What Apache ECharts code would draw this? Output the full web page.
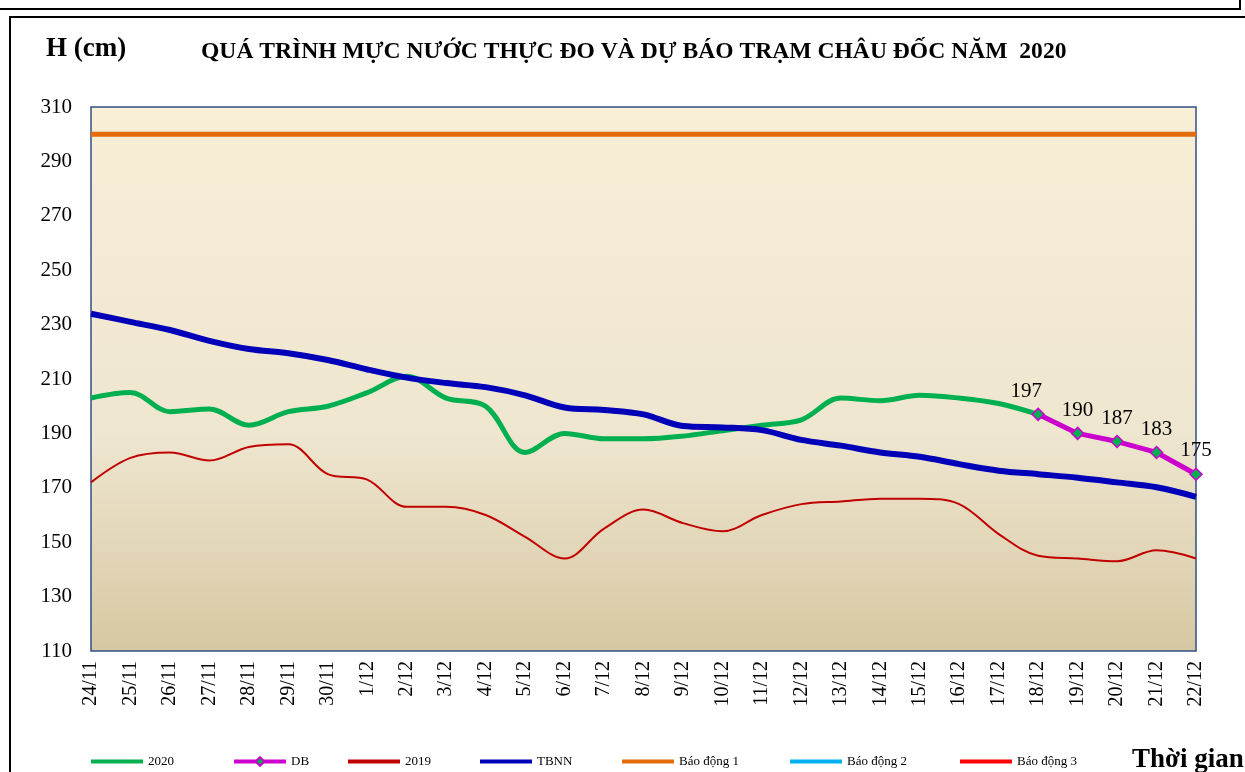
<!DOCTYPE html>
<html>
<head>
<meta charset="utf-8">
<title>Châu Đốc 2020</title>
<script src="https://cdn.jsdelivr.net/npm/echarts@6/dist/echarts.min.js"></script>
<style>
  html, body { margin: 0; padding: 0; background: #fff; }
  #chart { width: 1245px; height: 772px; }
</style>
</head>
<body>
<div id="chart"></div>
<script>
// Chart data
const days = [
  "24/11", "25/11", "26/11", "27/11", "28/11", "29/11", "30/11",
  "1/12", "2/12", "3/12", "4/12", "5/12", "6/12", "7/12", "8/12", "9/12",
  "10/12", "11/12", "12/12", "13/12", "14/12", "15/12", "16/12", "17/12",
  "18/12", "19/12", "20/12", "21/12", "22/12"
]
const level2020 = [203, 205, 198, 199, 193, 198, 200, 205, 211, 203, 200, 183, 190, 188, 188, 189,
  191, 193, 195, 203, 202, 204, 203, 201, 197, null, null, null, null]
const forecast = [null, null, null, null, null, null, null, null, null, null, null, null, null, null,
  null, null, null, null, null, null, null, null, null, null, 197, 190, 187, 183, 175]
const level2019 = [172, 181, 183, 180, 185, 186, 175, 173, 163, 163, 160, 152, 144, 155, 162, 157,
  154, 160, 164, 165, 166, 166, 164, 153, 145, 144, 143, 147, 144]
const average = [234, 231, 228, 224, 221, 219.5, 217, 213.5, 210.5, 208.5, 207, 204, 199.5, 198.6, 197,
  192.7, 192.2, 191.2, 187.6, 185.5, 183, 181.4, 178.7, 176.3, 175, 173.7, 172, 170.2, 166.7]
const alarm1 = days.map(() => 300)
const yTicks = [110, 130, 150, 170, 190, 210, 230, 250, 270, 290, 310]
const legendNames = ["2020", "DB", "2019", "TBNN", "Báo động 1", "Báo động 2", "Báo động 3"]

const SERIF = "'Times New Roman', 'Liberation Serif', serif"
const INK = "#000"

const chart = echarts.init(document.getElementById("chart"), null, {renderer: "canvas"})

// first forecast label sits a little left of its point, as in the original
const forecastData = forecast.map((v, i) =>
  i === forecast.findIndex(x => x != null) ? {value: v, label: {offset: [-12, 0]}} : v)

const line = (name, data, color, width, extra) => Object.assign({
  name, type: "line", data,
  symbol: "none", showSymbol: false,
  lineStyle: {color, width},
  itemStyle: {color},
  smooth: 0.35,
  connectNulls: false,
}, extra || {})

// one legend block per entry so the spacing follows the original sheet
const legendLeft = [91, 232, 348, 480, 622, 790, 960]
const legends = legendNames.map((name, i) => ({
  left: legendLeft[i], top: 755, padding: 0,
  itemWidth: 52, itemHeight: name === "DB" ? 11 : 4, itemGap: 0,
  icon: name === "DB" ? undefined : "rect",
  lineStyle: name === "DB" ? {width: 4} : undefined,
  textStyle: {fontFamily: SERIF, fontSize: 13, color: INK},
  data: [name],
}))

chart.setOption({
  animation: false,
  backgroundColor: "#fff",
  textStyle: {fontFamily: SERIF, color: INK},
  title: [
    {text: "H (cm)", left: 41, top: 31,
      textStyle: {fontFamily: SERIF, fontSize: 27, fontWeight: "bold", color: INK}},
    {text: "QUÁ TRÌNH MỰC NƯỚC THỰC ĐO VÀ DỰ BÁO TRẠM CHÂU ĐỐC NĂM  2020", left: 196, top: 35,
      textStyle: {fontFamily: SERIF, fontSize: 23.6, fontWeight: "bold", color: INK}},
    {text: "Thời gian", left: 1127, top: 742,
      textStyle: {fontFamily: SERIF, fontSize: 27, fontWeight: "bold", color: INK}},
  ],
  graphic: [
    {type: "rect", shape: {x: -2, y: -10, width: 1242, height: 19}, style: {fill: "none", stroke: "#000", lineWidth: 2}, silent: true},
    {type: "rect", shape: {x: 10, y: 17, width: 1240, height: 770}, style: {fill: "none", stroke: "#000", lineWidth: 2}, silent: true},
  ],
  legend: legends,
  grid: {
    left: 91, right: 49, top: 107, bottom: 121,
    show: true,
    borderColor: "#2f4f86", borderWidth: 1.5,
    backgroundColor: {
      type: "linear", x: 0, y: 0, x2: 0, y2: 1,
      colorStops: [
        {offset: 0, color: "#f9eed6"},
        {offset: 0.6, color: "#efe6d0"},
        {offset: 1, color: "#d6c8a2"},
      ],
    },
  },
  xAxis: {
    type: "category", data: days, boundaryGap: false,
    axisLine: {show: false},
    axisTick: {show: false},
    axisLabel: {interval: 0, rotate: 90, margin: 10, fontFamily: SERIF, fontSize: 20, color: INK},
  },
  yAxis: {
    type: "value", min: 110, max: 310,
    axisLine: {show: false},
    axisTick: {show: false},
    splitLine: {show: false},
    axisLabel: {customValues: yTicks, margin: 19, fontFamily: SERIF, fontSize: 21, color: INK},
  },
  series: [
    line("Báo động 1", alarm1, "#e46c0a", 5, {smooth: false}),
    line("Báo động 2", [], "#00b0f0", 5),
    line("Báo động 3", [], "#ff0000", 5),
    line("2020", level2020, "#00b050", 5),
    line("2019", level2019, "#c00000", 2),
    line("TBNN", average, "#0000b8", 6),
    line("DB", forecastData, "#cc00cc", 5, {
      smooth: false,
      symbol: "diamond", showSymbol: true, symbolSize: 12,
      itemStyle: {color: "#00b050", borderColor: "#cc00cc", borderWidth: 1.5},
      label: {show: true, position: "top", distance: 6, fontFamily: SERIF, fontSize: 21, color: INK},
      z: 5,
    }),
  ],
})
</script>
</body>
</html>
